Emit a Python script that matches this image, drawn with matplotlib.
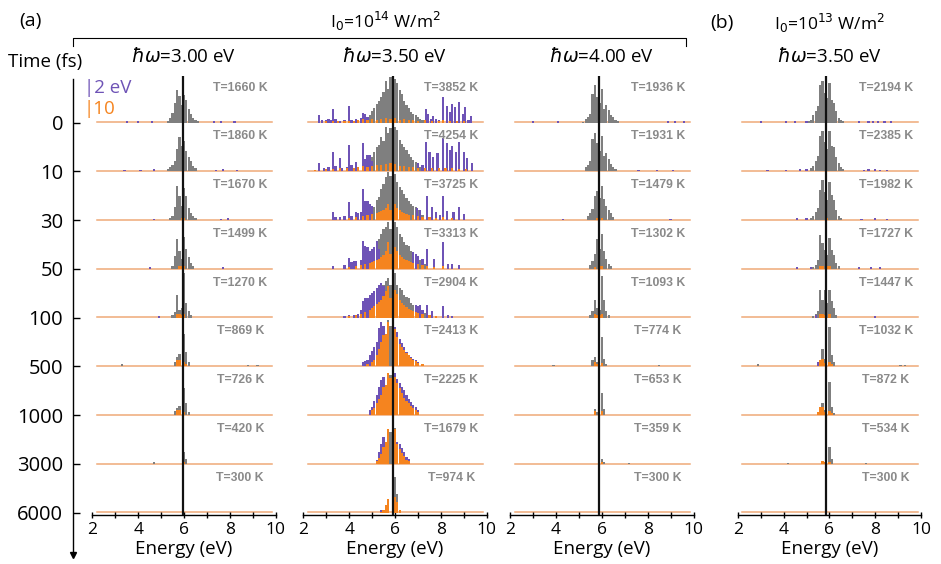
import matplotlib.pyplot as plt
from matplotlib.lines import Line2D

plt.rcParams['font.family'] = ['Open Sans', 'DejaVu Sans']
plt.rcParams['mathtext.fontset'] = 'dejavusans'

# ---- data -------------------------------------------------------------
times_fs = [0, 10, 30, 50, 100, 500, 1000, 3000, 6000]
photon_energy = ['3.00', '3.50', '4.00', '3.50']
gap_energy = [5.95, 5.92, 5.88, 5.86]
energy_range = (2.2, 9.85)

temps = [
    [1660, 1860, 1670, 1499, 1270, 869, 726, 420, 300],
    [3852, 4254, 3725, 3313, 2904, 2413, 2225, 1679, 974],
    [1936, 1931, 1479, 1302, 1093, 774, 653, 359, 300],
    [2194, 2385, 1982, 1727, 1447, 1032, 872, 534, 300],
]

# spectra: one list of (energy eV, intensity) per time step
gray_a300 = [
    [(5.3, 2), (5.4, 5), (5.5, 10), (5.6, 20), (5.7, 33), (5.8, 27), (5.9, 18), (6.0, 28), (6.1, 23),
     (6.2, 14), (6.3, 9), (6.4, 5), (6.5, 3), (6.6, 2)],
    [(5.3, 2), (5.4, 4), (5.5, 6), (5.6, 10), (5.7, 22), (5.8, 34), (5.9, 25), (6.0, 30), (6.1, 20),
     (6.2, 14), (6.3, 10), (6.4, 5), (6.5, 3)],
    [(5.4, 2), (5.5, 4), (5.6, 13), (5.7, 34), (5.8, 24), (5.9, 14), (6.0, 32), (6.1, 24), (6.2, 12),
     (6.3, 7), (6.4, 4), (6.5, 2)],
    [(5.5, 3), (5.6, 13), (5.7, 30), (5.8, 18), (5.9, 10), (6.0, 32), (6.1, 20), (6.2, 12), (6.3, 6),
     (6.4, 3)],
    [(5.5, 3), (5.6, 6), (5.7, 23), (5.8, 8), (5.9, 10), (6.0, 45), (6.1, 15), (6.2, 7), (6.3, 3)],
    [(3.3, 2), (5.6, 4), (5.7, 9), (5.8, 12), (6.0, 32), (6.1, 14), (6.2, 4), (8.8, 1), (9.2, 1)],
    [(5.6, 4), (5.7, 7), (5.8, 9), (6.0, 27), (6.1, 12), (6.2, 3)],
    [(4.7, 1.5), (6.0, 12), (6.1, 5)],
    [],
]
purple_a300 = [
    [(3.5, 1.5), (4.0, 1.5), (4.6, 1.5), (7.3, 1.5), (7.6, 2), (8.2, 1.5)],
    [(3.4, 1.5), (4.1, 1.5), (4.7, 2), (7.4, 1.5), (7.7, 2), (8.3, 1.5)],
    [(4.7, 1.5), (7.6, 1.5), (7.9, 2)],
    [(4.5, 1.5), (7.7, 1.5)],
    [(4.9, 1.5)],
    [], [], [], [],
]
orange_a300 = [
    [], [],
    [(5.9, 2), (6.0, 2)],
    [(5.8, 3), (5.9, 3), (6.0, 3)],
    [(5.7, 4), (5.8, 4), (5.9, 3), (6.0, 4)],
    [(5.7, 6), (5.8, 6), (6.0, 4), (6.1, 2)],
    [(5.7, 5), (5.8, 5), (6.0, 3)],
    [(6.0, 2)],
    [],
]

gray_a350 = [
    [(4.8, 4), (4.9, 8), (5.0, 12), (5.1, 15), (5.2, 19), (5.3, 22), (5.4, 26), (5.5, 31), (5.6, 42),
     (5.7, 34), (5.8, 46), (5.9, 38), (6.0, 44), (6.1, 40), (6.2, 33), (6.3, 29), (6.4, 22), (6.5, 18),
     (6.6, 15), (6.7, 11), (6.8, 9), (6.9, 8), (7.0, 6), (7.1, 4), (7.2, 3)],
    [(4.9, 6), (5.0, 14), (5.1, 19), (5.2, 24), (5.3, 26), (5.4, 34), (5.5, 30), (5.6, 44), (5.7, 38),
     (5.8, 43), (5.9, 36), (6.0, 44), (6.1, 41), (6.2, 31), (6.3, 27), (6.4, 24), (6.5, 21), (6.6, 17),
     (6.7, 14), (6.8, 11), (6.9, 9), (7.0, 6), (7.1, 4)],
    [(5.0, 10), (5.1, 13), (5.2, 20), (5.3, 23), (5.4, 31), (5.5, 36), (5.6, 43), (5.7, 48), (5.8, 44),
     (5.9, 40), (6.0, 46), (6.1, 38), (6.2, 33), (6.3, 30), (6.4, 26), (6.5, 22), (6.6, 19), (6.7, 16),
     (6.8, 14), (6.9, 13), (7.0, 10), (7.1, 8), (7.2, 5)],
    [(5.3, 30), (5.4, 35), (5.5, 40), (5.6, 42), (5.7, 47), (5.8, 40), (5.9, 38), (6.0, 47), (6.1, 42),
     (6.2, 35), (6.3, 32), (6.4, 27), (6.5, 24), (6.6, 23), (6.7, 18), (6.8, 16), (6.9, 13), (7.0, 12),
     (7.1, 9), (7.2, 8), (7.3, 5)],
    [(5.5, 33), (5.6, 37), (5.7, 40), (5.8, 33), (5.9, 36), (6.0, 45), (6.1, 33), (6.2, 30), (6.3, 28),
     (6.4, 23), (6.5, 21), (6.6, 20), (6.7, 15), (6.8, 13), (6.9, 11), (7.0, 10), (7.1, 8), (7.2, 7),
     (7.3, 5)],
    [(5.7, 46), (5.8, 40), (6.0, 38), (6.1, 34)],
    [(5.7, 42), (5.8, 40), (6.0, 42)],
    [(5.7, 35), (5.8, 32), (6.0, 36)],
    [(6.0, 36), (6.1, 19)],
]
purple_a350 = [
    [(2.7, 8), (2.8, 3), (3.0, 3), (3.1, 4), (3.2, 3), (3.3, 14), (3.4, 4), (3.6, 2), (3.8, 3), (4.0, 17),
     (4.1, 3), (4.3, 4), (4.5, 5), (4.6, 10), (4.7, 9), (4.8, 6), (7.35, 14), (7.45, 9), (7.55, 4),
     (7.65, 7), (7.8, 4), (7.9, 3), (8.1, 26), (8.25, 17), (8.4, 11), (8.5, 19), (8.6, 16), (8.8, 21),
     (8.95, 9), (9.05, 16), (9.2, 3), (9.3, 7)],
    [(2.7, 8), (2.9, 3), (3.1, 4), (3.3, 19), (3.4, 5), (3.6, 13), (3.7, 3), (3.9, 4), (4.0, 26), (4.1, 6),
     (4.3, 9), (4.4, 4), (4.6, 28), (4.7, 12), (4.8, 16), (4.9, 16), (5.0, 10), (7.0, 8), (7.2, 6),
     (7.35, 29), (7.5, 19), (7.65, 14), (7.85, 18), (8.1, 33), (8.25, 28), (8.4, 21), (8.5, 25),
     (8.65, 19), (8.8, 29), (9.0, 19), (9.15, 13), (9.35, 8)],
    [(3.3, 8), (3.4, 3), (3.6, 3), (3.8, 4), (4.0, 18), (4.1, 4), (4.3, 8), (4.4, 7), (4.5, 8), (4.6, 31),
     (4.7, 19), (4.8, 19), (4.9, 16), (5.0, 14), (6.95, 12), (7.1, 10), (7.4, 24), (7.6, 13), (7.8, 8),
     (7.95, 5), (8.1, 24), (8.25, 9), (8.55, 8), (8.8, 13), (9.0, 6)],
    [(3.3, 3), (3.8, 4), (4.0, 11), (4.1, 7), (4.2, 8), (4.3, 8), (4.5, 9), (4.6, 28), (4.7, 23), (4.8, 22),
     (4.9, 18), (5.0, 20), (5.1, 22), (5.2, 28), (5.3, 20), (6.8, 17), (6.9, 15), (7.0, 13), (7.2, 10),
     (7.4, 20), (7.7, 10), (8.1, 27), (8.3, 5), (8.5, 5), (8.8, 4)],
    [(3.8, 2), (4.0, 3), (4.2, 3), (4.4, 4), (4.5, 8), (4.6, 17), (4.7, 20), (4.8, 20), (4.9, 23), (5.0, 25),
     (5.1, 27), (5.2, 30), (5.3, 33), (5.4, 35), (5.5, 32), (6.9, 13), (7.0, 12), (7.1, 13), (7.2, 8),
     (7.4, 13), (7.6, 7), (8.1, 12), (8.3, 3), (8.5, 2)],
    [(4.6, 4), (4.7, 5), (4.8, 6), (4.9, 11), (5.0, 15), (5.1, 19), (5.2, 24), (5.3, 38), (5.4, 44),
     (5.5, 40), (5.6, 31), (6.0, 39), (6.1, 34), (6.2, 27), (6.3, 23), (6.4, 19), (6.5, 14), (6.6, 11),
     (6.7, 9), (6.8, 7), (6.9, 6), (7.0, 4), (7.2, 2)],
    [(4.9, 5), (5.0, 8), (5.1, 14), (5.2, 20), (5.3, 28), (5.4, 35), (5.5, 38), (5.6, 30), (6.0, 42),
     (6.1, 36), (6.2, 32), (6.3, 28), (6.4, 25), (6.5, 20), (6.6, 16), (6.7, 13), (6.8, 10), (6.9, 8),
     (7.0, 5)],
    [(5.2, 4), (5.3, 12), (5.4, 20), (5.5, 27), (5.6, 18), (6.1, 22), (6.2, 20), (6.3, 16), (6.4, 12),
     (6.5, 7), (6.6, 5)],
    [(5.4, 3), (5.5, 3)],
]
orange_a350 = [
    [(3.0, 1.5), (3.3, 2), (3.5, 1.5), (3.8, 2), (4.0, 2), (4.2, 2), (4.4, 3), (4.6, 4), (4.8, 3), (5.0, 4),
     (5.2, 3), (5.4, 4), (5.6, 5), (5.8, 4), (6.0, 5), (6.2, 3), (6.4, 4), (6.6, 3), (6.8, 3), (7.0, 2),
     (7.3, 3), (7.6, 2), (7.9, 2), (8.1, 3), (8.4, 2), (8.7, 2), (9.0, 2)],
    [(2.5, 1.5), (3.0, 2), (3.3, 2), (3.6, 3), (3.9, 3), (4.2, 3), (4.4, 4), (4.6, 5), (4.8, 4), (5.0, 5),
     (5.2, 6), (5.4, 6), (5.6, 7), (5.8, 8), (6.0, 7), (6.2, 5), (6.4, 5), (6.6, 4), (6.8, 4), (7.0, 3),
     (7.3, 3), (7.6, 3), (7.9, 3), (8.2, 3), (8.5, 3), (8.8, 2), (9.1, 2)],
    [(4.0, 2), (4.3, 3), (4.6, 4), (4.8, 5), (5.0, 6), (5.2, 7), (5.3, 8), (5.4, 9), (5.5, 10), (5.6, 12),
     (5.7, 16), (5.8, 10), (6.0, 16), (6.1, 12), (6.2, 10), (6.3, 8), (6.4, 7), (6.5, 6), (6.6, 5),
     (6.8, 5), (7.0, 4), (7.2, 3), (7.5, 3), (7.8, 2), (8.1, 3), (8.5, 2)],
    [(4.0, 2), (4.3, 3), (4.5, 4), (4.7, 5), (4.9, 6), (5.0, 7), (5.1, 8), (5.2, 9), (5.3, 10), (5.4, 12),
     (5.5, 14), (5.6, 18), (5.7, 27), (5.8, 15), (6.0, 22), (6.1, 18), (6.2, 14), (6.3, 12), (6.4, 10),
     (6.5, 9), (6.6, 8), (6.7, 7), (6.8, 6), (7.0, 5), (7.2, 4), (7.4, 3), (7.7, 2), (8.1, 3)],
    [(4.0, 2), (4.3, 3), (4.5, 4), (4.7, 6), (4.9, 8), (5.0, 10), (5.1, 12), (5.2, 14), (5.3, 16),
     (5.4, 18), (5.5, 22), (5.6, 27), (5.7, 32), (5.8, 20), (6.0, 28), (6.1, 24), (6.2, 18), (6.3, 15),
     (6.4, 13), (6.5, 11), (6.6, 9), (6.7, 8), (6.8, 7), (6.9, 6), (7.0, 5), (7.2, 4), (7.5, 3), (7.8, 2)],
    [(4.8, 2), (5.0, 4), (5.1, 6), (5.2, 11), (5.3, 17), (5.4, 24), (5.5, 31), (5.6, 32), (5.7, 44),
     (6.0, 37), (6.1, 29), (6.2, 22), (6.3, 19), (6.4, 16), (6.5, 13), (6.6, 11), (6.7, 8), (6.8, 6),
     (6.9, 5), (7.0, 3), (7.2, 2)],
    [(5.0, 5), (5.1, 7), (5.2, 12), (5.3, 16), (5.4, 20), (5.5, 28), (5.6, 30), (5.7, 42), (5.8, 37),
     (6.0, 38), (6.1, 32), (6.2, 27), (6.3, 22), (6.4, 17), (6.5, 14), (6.6, 12), (6.7, 9), (6.8, 7),
     (6.9, 5), (7.0, 3)],
    [(5.2, 3), (5.3, 6), (5.4, 10), (5.5, 17), (5.6, 22), (5.7, 35), (6.0, 35), (6.1, 20), (6.2, 15),
     (6.3, 11), (6.4, 8), (6.5, 4), (6.6, 3)],
    [(5.4, 1), (5.5, 3), (5.6, 8), (5.7, 14), (5.9, 16), (6.0, 16), (6.1, 11), (6.2, 3)],
]

gray_a400 = [
    [(5.2, 1), (5.3, 4), (5.4, 6), (5.5, 9), (5.6, 29), (5.7, 38), (5.8, 26), (5.9, 20), (6.0, 34),
     (6.1, 14), (6.2, 18), (6.3, 13), (6.4, 8), (6.5, 6), (6.6, 3), (6.7, 2)],
    [(5.3, 4), (5.4, 6), (5.5, 10), (5.6, 32), (5.7, 38), (5.8, 28), (5.9, 20), (6.0, 35), (6.1, 15),
     (6.2, 18), (6.3, 12), (6.4, 7), (6.5, 4), (6.6, 2)],
    [(5.4, 4), (5.5, 7), (5.6, 11), (5.7, 24), (5.8, 29), (5.9, 22), (6.0, 34), (6.1, 21), (6.2, 14),
     (6.3, 10), (6.4, 7), (6.5, 3)],
    [(5.5, 4), (5.6, 8), (5.7, 15), (5.8, 30), (5.9, 20), (6.0, 35), (6.1, 18), (6.2, 10), (6.3, 5),
     (6.4, 3)],
    [(5.5, 3), (5.6, 7), (5.7, 18), (5.8, 10), (5.9, 8), (6.0, 42), (6.1, 18), (6.2, 7), (6.3, 3)],
    [(3.9, 1.5), (5.6, 6), (5.7, 9), (5.8, 4), (6.0, 29), (6.1, 7), (6.2, 2), (8.5, 1)],
    [(5.7, 6), (5.8, 3), (6.0, 22), (6.1, 6)],
    [(6.0, 5), (6.1, 2), (7.2, 1)],
    [],
]
purple_a400 = [
    [(3.0, 1.5), (4.1, 1.5), (8.9, 1.5), (9.2, 2), (9.6, 1.5)],
    [(7.6, 1.5), (8.4, 1.5), (9.1, 1.5)],
    [(4.3, 1.5), (9.0, 1.5)],
    [], [], [], [], [], [],
]
orange_a400 = [
    [], [],
    [(5.8, 2), (6.0, 2)],
    [(5.7, 2), (5.9, 3), (6.0, 3)],
    [(5.7, 4), (5.8, 3), (5.9, 3), (6.0, 4)],
    [(5.7, 4), (5.8, 2), (6.0, 3)],
    [(5.7, 4), (6.0, 4)],
    [(6.0, 1.5)],
    [],
]

gray_b350 = [
    [(5.1, 2), (5.2, 3), (5.3, 8), (5.4, 12), (5.5, 17), (5.6, 38), (5.7, 42), (5.8, 30), (5.9, 25),
     (6.0, 40), (6.1, 23), (6.2, 20), (6.3, 12), (6.4, 5), (6.5, 3), (6.6, 2)],
    [(5.2, 3), (5.3, 5), (5.4, 10), (5.5, 15), (5.6, 35), (5.7, 40), (5.8, 29), (5.9, 22), (6.0, 40),
     (6.1, 25), (6.2, 24), (6.3, 14), (6.4, 8), (6.5, 4), (6.6, 2)],
    [(5.2, 2), (5.3, 4), (5.4, 8), (5.5, 12), (5.6, 30), (5.7, 40), (5.8, 28), (5.9, 20), (6.0, 38),
     (6.1, 25), (6.2, 20), (6.3, 10), (6.4, 4), (6.5, 2)],
    [(5.3, 2), (5.4, 4), (5.5, 9), (5.6, 34), (5.7, 26), (5.8, 19), (5.9, 14), (6.0, 31), (6.1, 19),
     (6.2, 14), (6.3, 6), (6.4, 3)],
    [(5.3, 2), (5.4, 4), (5.5, 7), (5.6, 28), (5.7, 18), (5.8, 28), (5.9, 15), (6.0, 28), (6.1, 17),
     (6.2, 10), (6.3, 3)],
    [(2.9, 2), (5.5, 4), (5.6, 6), (5.7, 17), (5.8, 7), (6.0, 39), (6.1, 11), (6.2, 4), (9.1, 1.5),
     (9.3, 1.5)],
    [(5.6, 4), (5.7, 12), (5.8, 5), (6.0, 33), (6.1, 8), (6.2, 2)],
    [(4.2, 1), (5.7, 3), (6.0, 17), (6.1, 5), (7.6, 1)],
    [],
]
purple_b350 = [
    [(3.0, 1.5), (4.1, 1.5), (4.5, 1.5), (5.0, 2), (7.3, 1.5), (7.7, 2), (7.9, 2), (8.1, 1.5), (8.4, 1.5),
     (8.7, 1.5)],
    [(3.3, 1.5), (4.1, 1.5), (4.7, 2), (5.0, 2), (7.5, 1.5), (7.7, 2), (8.0, 2), (8.2, 1.5), (8.5, 1.5)],
    [(4.6, 2), (5.0, 2), (7.4, 1.5), (8.0, 2), (8.5, 1.5)],
    [(4.6, 1.5), (5.2, 2), (7.3, 1.5), (7.8, 1.5), (8.2, 1.5)],
    [(5.4, 3), (8.0, 1.5)],
    [(5.5, 4)],
    [], [], [],
]
orange_b350 = [
    [], [],
    [(5.9, 2)],
    [(5.6, 3), (5.7, 3), (5.9, 3), (6.0, 3)],
    [(5.6, 4), (5.7, 4), (5.8, 3), (6.0, 4)],
    [(5.6, 6), (5.7, 7), (5.8, 3), (6.0, 4), (6.1, 2)],
    [(5.5, 3), (5.6, 8), (5.7, 8), (5.8, 3), (6.0, 4), (6.1, 2)],
    [(5.7, 3), (5.8, 2), (6.0, 2)],
    [],
]

gray_sets = [gray_a300, gray_a350, gray_a400, gray_b350]
purple_sets = [purple_a300, purple_a350, purple_a400, purple_b350]
orange_sets = [orange_a300, orange_a350, orange_a400, orange_b350]

GRAY = '#7f7f7f'
PURPLE = '#6e53b6'
ORANGE = '#f5841f'
LABEL_GRAY = '#8a8a8a'

# ---- layout (pixels) ---------------------------------------------------
W, H = 941, 564
col_left = [92.3, 303.3, 510.0, 737.7]
col_width = 183.5
baseline0 = 122.7
row_step = 48.75
pad = 2.0


def fx(x):
    return x / W


def fy(y):
    return 1 - y / H


def draw_bars(ax, pairs, color, z):
    if not pairs:
        return
    e, h = zip(*pairs)
    ax.bar(e, h, width=0.095, color=color, linewidth=0, zorder=z, clip_on=False)


fig = plt.figure(figsize=(W / 100, H / 100), dpi=100)

for c in range(4):
    for r in range(len(times_fs)):
        bottom_px = baseline0 + row_step * r + pad
        ax = fig.add_axes([fx(col_left[c]), fy(bottom_px), col_width / W, row_step / H])
        ax.set_xlim(2, 10)
        ax.set_ylim(-pad, row_step - pad)
        ax.patch.set_visible(False)
        for side in ['top', 'right', 'left', 'bottom']:
            ax.spines[side].set_visible(False)
        ax.set_yticks([])

        ax.plot(energy_range, [0.3, 0.3], color='#efaa78', lw=1.1, zorder=1)
        draw_bars(ax, gray_sets[c][r], GRAY, 2)
        draw_bars(ax, purple_sets[c][r], PURPLE, 3)
        draw_bars(ax, orange_sets[c][r], ORANGE, 4)
        ax.axvline(gap_energy[c], color='#111111', lw=1.6, zorder=6)

        ax.text(8.45, 35, f'T={temps[c][r]} K', ha='center', va='center',
                fontsize=8.8, fontweight='bold', color=LABEL_GRAY,
                family=['Liberation Sans', 'DejaVu Sans'])

        if r == len(times_fs) - 1:
            ax.spines['bottom'].set_visible(True)
            ax.spines['bottom'].set_linewidth(1.0)
            ax.spines['bottom'].set_bounds(2, 10)
            ax.set_xticks([2, 4, 6, 8, 10])
            ax.set_xticks([3, 5, 7, 9], minor=True)
            ax.tick_params(axis='x', which='both', direction='inout', length=5, width=1.0,
                           labelsize=12.5, pad=3)
        else:
            ax.set_xticks([])

    xc = col_left[c] + col_width / 2
    fig.text(fx(xc), fy(57), r'$\hbar\omega$=' + photon_energy[c] + ' eV',
             ha='center', va='center', fontsize=13.5)
    fig.text(fx(xc), fy(549), 'Energy (eV)', ha='center', va='center', fontsize=13.5)

# time axis on the left
tax = fig.add_axes([fx(73), fy(555), 0.0005, (555 - 79) / H])
tax.patch.set_visible(False)
for side in ['top', 'right', 'bottom']:
    tax.spines[side].set_visible(False)
tax.spines['left'].set_linewidth(1.0)
tax.set_ylim((555 - baseline0) / row_step, (79 - baseline0) / row_step)
tax.set_yticks(range(len(times_fs)))
tax.set_yticklabels([str(t) for t in times_fs])
tax.set_xticks([])
tax.tick_params(axis='y', direction='in', length=5, width=1.0, labelsize=14.5, pad=7)
tax.plot(0, 0, marker='v', markersize=5, color='k', transform=tax.transAxes, clip_on=False)

# bracket over the I0 = 1e14 columns
fig.add_artist(Line2D([fx(73), fx(73), fx(686), fx(686)], [fy(46), fy(38), fy(38), fy(46)],
                      color='k', lw=0.8))

fig.text(fx(30), fy(21), '(a)', ha='center', va='center', fontsize=14)
fig.text(fx(385), fy(21), r'I$_0$=10$^{14}$ W/m$^2$', ha='center', va='center', fontsize=12.5)
fig.text(fx(722), fy(23), '(b)', ha='center', va='center', fontsize=14)
fig.text(fx(829), fy(23), r'I$_0$=10$^{13}$ W/m$^2$', ha='center', va='center', fontsize=12.5)
fig.text(fx(45), fy(62), 'Time (fs)', ha='center', va='center', fontsize=13.5)

# intensity scale bars
fig.text(fx(84), fy(88), '|2 eV', ha='left', va='center', fontsize=13.5, color=PURPLE)
fig.text(fx(84), fy(109), '|10', ha='left', va='center', fontsize=13.5, color=ORANGE)

fig.savefig('out.png', dpi=100)
